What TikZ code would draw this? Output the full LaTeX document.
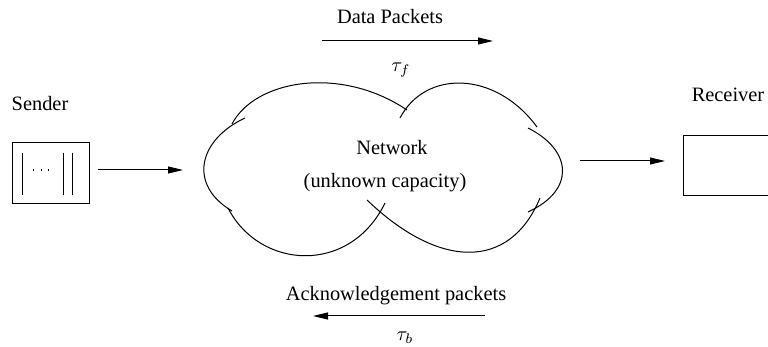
\documentclass[tikz,border=0pt]{standalone}
\usepackage{fontspec}
\setmainfont{Liberation Serif}
\usetikzlibrary{arrows.meta,positioning}

\begin{document}
\begin{tikzpicture}[x=0.5pt,y=-0.5pt,
	box/.style = {draw, rectangle, line width=0.5pt, inner sep=0pt},
	arr/.style = {-{Triangle[length=7.5pt,width=3.5pt]}, line width=0.5pt},
	lbl/.style = {font=\fontsize{10.2}{12}\selectfont, inner sep=0pt},
	cloud/.style = {line width=0.5pt}]
	\clip (0,0) rectangle (768,347);
	% sender
	\node[lbl] (sendlbl) at (40,104) {Sender};
	\node[box, minimum width=38.5pt, minimum height=30.5pt] (sender) at (50.5,173.5) {};
	\draw[line width=0.5pt] (22,153) -- (22,195);
	\draw[line width=0.5pt] (63,153) -- (63,195);
	\draw[line width=0.5pt] (72,153) -- (72,195);
	\draw[line width=0.6pt, dash pattern=on 0.6pt off 3.2pt] (33,170) -- (55,170);
	% receiver
	\node[lbl] (recvlbl) at (728,95) {Receiver};
	\node[box, minimum width=53.5pt, minimum height=30pt] (receiver) at (736.5,166) {};
	% network cloud
	\draw[cloud] (232,124) .. controls (255,80) and (340,65) .. (407,110);
	\draw[cloud] (400,118) .. controls (425,70) and (495,70) .. (537,127);
	\draw[cloud] (528,128) .. controls (572,150) and (576,190) .. (528,212);
	\draw[cloud] (367,200) .. controls (440,270) and (510,270) .. (540,198);
	\draw[cloud] (385,203) .. controls (350,275) and (260,270) .. (228,208);
	\draw[cloud] (245,118) .. controls (198,140) and (188,185) .. (232,211);
	\node[lbl] (net) at (392,148) {Network};
	\node[lbl] (cap) at (385,183) {(unknown capacity)};
	% flows
	\coordinate (s1) at (98,170);
	\coordinate (s2) at (183,170);
	\coordinate (r1) at (580,161);
	\coordinate (r2) at (665,161);
	\draw[arr] (s1) -- (s2);
	\draw[arr] (r1) -- (r2);
	\node[lbl] (data) at (390,17) {Data Packets};
	\coordinate (d1) at (322,41);
	\coordinate (d2) at (493,41);
	\draw[arr] (d1) -- (d2);
	\node[lbl] (tauf) at (401,70) {$\tau_f$};
	\node[lbl] (ack) at (396,296) {Acknowledgement packets};
	\coordinate (a1) at (485,316);
	\coordinate (a2) at (313,316);
	\draw[arr] (a1) -- (a2);
	\node[lbl] (taub) at (405,338) {$\tau_b$};
\end{tikzpicture}
\end{document}
